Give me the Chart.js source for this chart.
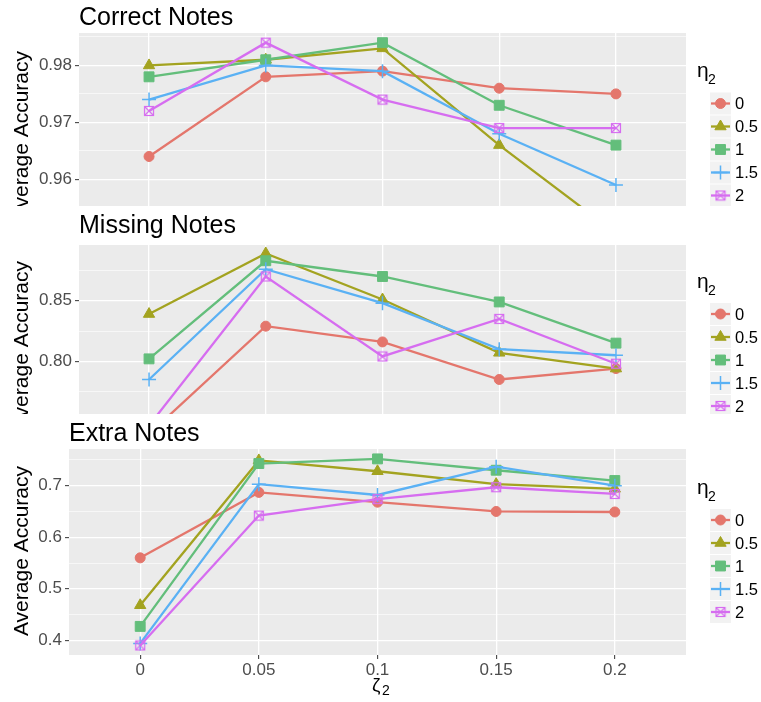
<!DOCTYPE html>
<html><head><meta charset="utf-8">
<script src="https://cdn.jsdelivr.net/npm/chart.js@4.4.0/dist/chart.umd.min.js"></script>
<style>
body{margin:0;background:#fff;width:761px;height:702px;overflow:hidden;position:relative}
canvas{position:absolute;left:0}
</style></head><body>
<canvas id="c1" width="761" height="206" style="top:0px"></canvas>
<canvas id="c2" width="761" height="208" style="top:206px"></canvas>
<canvas id="c3" width="761" height="288" style="top:414px"></canvas>
<script>
// ---- data ----
const zeta = [0, 0.05, 0.1, 0.15, 0.2];
const xTickLabels = ['0', '0.05', '0.1', '0.15', '0.2'];
const etaLevels = ['0', '0.5', '1', '1.5', '2'];

const correct0  = [0.964, 0.978, 0.979, 0.976, 0.975];
const correct05 = [0.980, 0.981, 0.983, 0.966, 0.9505];
const correct1  = [0.978, 0.981, 0.984, 0.973, 0.966];
const correct15 = [0.974, 0.980, 0.979, 0.968, 0.959];
const correct2  = [0.972, 0.984, 0.974, 0.969, 0.969];

const missing0  = [0.740, 0.829, 0.816, 0.785, 0.794];
const missing05 = [0.839, 0.889, 0.851, 0.807, 0.794];
const missing1  = [0.802, 0.883, 0.870, 0.849, 0.815];
const missing15 = [0.785, 0.876, 0.848, 0.810, 0.805];
const missing2  = [0.747, 0.870, 0.804, 0.835, 0.798];

const extra0  = [0.560, 0.687, 0.668, 0.650, 0.649];
const extra05 = [0.468, 0.749, 0.728, 0.703, 0.694];
const extra1  = [0.427, 0.743, 0.752, 0.730, 0.710];
const extra15 = [0.394, 0.703, 0.682, 0.737, 0.700];
const extra2  = [0.390, 0.642, 0.674, 0.697, 0.684];

const correctTicks = [0.96, 0.97, 0.98];
const correctTickLabels = ['0.96', '0.97', '0.98'];
const correctMinorTicks = [0.955, 0.965, 0.975, 0.985];
const missingTicks = [0.80, 0.85];
const missingTickLabels = ['0.80', '0.85'];
const missingMinorTicks = [0.775, 0.825, 0.875];
const extraTicks = [0.4, 0.5, 0.6, 0.7];
const extraTickLabels = ['0.4', '0.5', '0.6', '0.7'];
const extraMinorTicks = [0.45, 0.55, 0.65, 0.75];

// ---- styles ----
const FONT = '"Liberation Sans", Arial, sans-serif';
const colors = ['#E4766C', '#A3A320', '#63BE7B', '#5AB1F4', '#D66DF0'];

function boxedX(color) {
  const c = document.createElement('canvas');
  c.width = 12; c.height = 12;
  const g = c.getContext('2d');
  g.strokeStyle = color; g.lineWidth = 1.2;
  g.strokeRect(1.5, 1.5, 9, 9);
  g.beginPath();
  g.moveTo(1.5, 1.5); g.lineTo(10.5, 10.5);
  g.moveTo(10.5, 1.5); g.lineTo(1.5, 10.5);
  g.stroke();
  return c;
}
const styles = ['circle', 'triangle', 'rect', 'cross', boxedX(colors[4])];
const radii = [5, 6.5, 7, 7, 6];
const pbw = [1, 1, 1, 1.5, 1];

const decor = {
  id: 'decor',
  beforeDraw(chart) {
    const a = chart.chartArea, ctx = chart.ctx;
    ctx.save();
    ctx.fillStyle = '#EBEBEB';
    ctx.fillRect(a.left, a.top, a.right - a.left, a.bottom - a.top);
    ctx.restore();
  },
  afterDraw(chart, args, o) {
    const ctx = chart.ctx;
    ctx.save();
    ctx.fillStyle = '#000';
    ctx.textAlign = 'left';
    ctx.textBaseline = 'alphabetic';
    ctx.font = '25px ' + FONT;
    ctx.fillText(o.title, chart.chartArea.left, o.titleY);
    ctx.save();
    ctx.translate(28, o.yTitleC);
    ctx.rotate(-Math.PI / 2);
    ctx.textAlign = 'center';
    ctx.font = '21px ' + FONT;
    ctx.fillText('Average Accuracy', 0, 0);
    ctx.restore();
    if (o.xTitle) {
      ctx.font = '19px ' + FONT;
      ctx.fillText('\u03B6', 372, o.xTitleY);
      ctx.font = '14px ' + FONT;
      ctx.fillText('2', 382, o.xTitleY + 4);
    }
    ctx.font = '21px ' + FONT;
    ctx.fillText('\u03B7', 697, o.legTitleY);
    ctx.font = '14px ' + FONT;
    ctx.fillText('2', 708, o.legTitleY + 7);
    for (let i = 0; i < etaLevels.length; i++) {
      const cy = o.legY0 + i * 23;
      ctx.fillStyle = '#F2F2F2';
      ctx.fillRect(710, cy - 11, 21, 22);
      ctx.strokeStyle = colors[i];
      ctx.lineWidth = 2.3;
      ctx.beginPath(); ctx.moveTo(711, cy); ctx.lineTo(730, cy); ctx.stroke();
      ctx.fillStyle = colors[i];
      ctx.lineWidth = pbw[i];
      Chart.helpers.drawPoint(ctx, {pointStyle: styles[i], radius: radii[i], rotation: 0, borderWidth: pbw[i]}, 720.5, cy);
      ctx.fillStyle = '#000';
      ctx.textBaseline = 'middle';
      ctx.font = '16.5px ' + FONT;
      ctx.fillText(etaLevels[i], 735, cy + 1);
      ctx.textBaseline = 'alphabetic';
    }
    ctx.restore();
  }
};

function noPad(s) { s.paddingTop = 0; s.paddingBottom = 0; s.paddingLeft = 0; s.paddingRight = 0; }

function makeChart(id, series, cfg) {
  const datasets = series.map((vals, i) => ({
    label: etaLevels[i],
    data: zeta.map((z, j) => ({x: z, y: vals[j]})),
    borderColor: colors[i],
    backgroundColor: colors[i],
    borderWidth: 2.3,
    pointStyle: styles[i],
    pointRadius: radii[i],
    pointHoverRadius: radii[i],
    pointBorderWidth: pbw[i],
    pointBorderColor: colors[i],
    pointBackgroundColor: colors[i],
    tension: 0,
    fill: false,
    order: 4 - i
  }));
  const allY = cfg.majors.map(v => ({value: v, minorTick: false}))
    .concat(cfg.minors.map(v => ({value: v, minorTick: true})))
    .sort((a, b) => a.value - b.value);
  return new Chart(document.getElementById(id), {
    type: 'line',
    data: {datasets},
    plugins: [decor],
    options: {
      responsive: false,
      animation: false,
      events: [],
      layout: {autoPadding: false, padding: {left: 0, right: 75, top: cfg.top, bottom: 0}},
      scales: {
        x: {
          type: 'linear', min: -0.03, max: 0.23,
          afterBuildTicks: s => { s.ticks = zeta.map(v => ({value: v})); },
          afterFit: s => { s.height = cfg.xHeight; noPad(s); },
          ticks: {
            display: cfg.showX, autoSkip: false, maxRotation: 0, padding: 1,
            color: '#4D4D4D', font: {family: FONT, size: 17},
            callback: (v, i) => xTickLabels[i]
          },
          grid: {color: '#FFFFFF', lineWidth: 1.3, drawTicks: cfg.showX, tickLength: 4, tickColor: '#333333', tickWidth: 1},
          border: {display: false}
        },
        y: {
          type: 'linear', min: cfg.min, max: cfg.max,
          afterBuildTicks: s => { s.ticks = allY.map(t => ({value: t.value, minorTick: t.minorTick})); },
          afterFit: s => { s.width = cfg.yWidth; noPad(s); },
          ticks: {
            autoSkip: false, padding: 3, color: '#4D4D4D', font: {family: FONT, size: 17},
            callback: v => {
              const k = cfg.majors.findIndex(m => Math.abs(m - v) < 1e-9);
              return k >= 0 ? cfg.labels[k] : '';
            }
          },
          grid: {
            color: '#FFFFFF',
            lineWidth: c => (c.tick && c.tick.minorTick) ? 0.6 : 1.3,
            tickColor: c => (c.tick && c.tick.minorTick) ? 'rgba(0,0,0,0)' : '#333333',
            tickLength: 4, tickWidth: 1
          },
          border: {display: false}
        }
      },
      plugins: {
        legend: {display: false},
        tooltip: {enabled: false},
        decor: cfg.decor
      }
    }
  });
}

makeChart('c1', [correct0, correct05, correct1, correct15, correct2], {
  majors: correctTicks, labels: correctTickLabels, minors: correctMinorTicks,
  min: 0.9553, max: 0.9857, top: 33, yWidth: 79, xHeight: 0, showX: false,
  decor: {title: 'Correct Notes', titleY: 25, yTitleC: 136, xTitle: false, legTitleY: 77, legY0: 103.5}
});
makeChart('c2', [missing0, missing05, missing1, missing15, missing2], {
  majors: missingTicks, labels: missingTickLabels, minors: missingMinorTicks,
  min: 0.7565, max: 0.896, top: 39, yWidth: 79, xHeight: 0, showX: false,
  decor: {title: 'Missing Notes', titleY: 27, yTitleC: 140, xTitle: false, legTitleY: 82, legY0: 108}
});
makeChart('c3', [extra0, extra05, extra1, extra15, extra2], {
  majors: extraTicks, labels: extraTickLabels, minors: extraMinorTicks,
  min: 0.3715, max: 0.7712, top: 35, yWidth: 69, xHeight: 47, showX: true,
  decor: {title: 'Extra Notes', titleY: 27, yTitleC: 137, xTitle: true, xTitleY: 277, legTitleY: 80, legY0: 106}
});
</script>
</body></html>
